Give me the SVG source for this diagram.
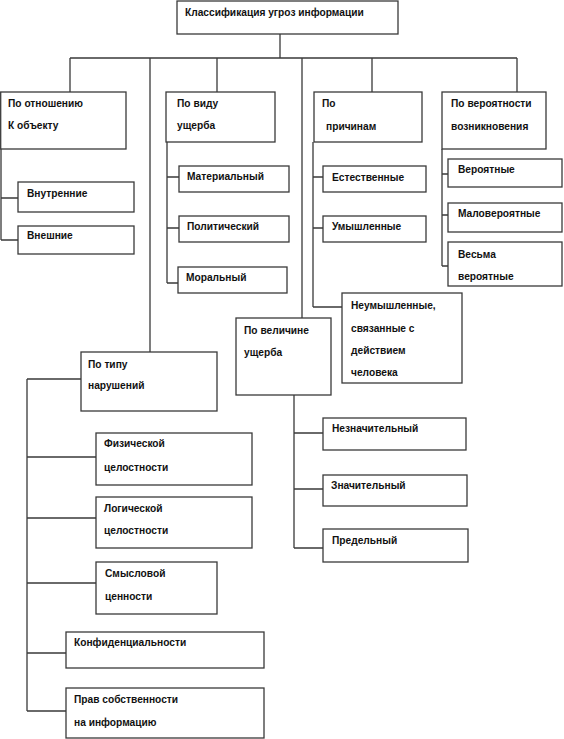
<svg xmlns="http://www.w3.org/2000/svg" width="564" height="739" viewBox="0 0 564 739">
<style>
rect{fill:#fff;stroke:#3a3a3a;stroke-width:1.3}
.c path{fill:none;stroke:#3a3a3a;stroke-width:1.3}
text{font-family:"Liberation Sans",Arial,sans-serif;font-weight:bold;font-size:10.2px;fill:#111}
</style>
<rect x="0" y="0" width="564" height="739" style="fill:#fff;stroke:none"/>
<g class="c" id="connectors">
<path d="M280 34V58M70 58H517M70 58V92M150 58V352M217 58V92M302 58V318M372 58V92M517 58V92"/>
<path d="M1 149V240M1 198H18M1 240H18"/>
<path d="M167 142V283M167 177H179M167 228H179M167 283H178"/>
<path d="M313 142V307M313 177H323M313 228H323M313 307H342"/>
<path d="M442 149V266M442 174H448M442 215H448M442 266H448"/>
<path d="M294 395V548M294 433H323M294 489H323M294 548H323"/>
<path d="M27 379H81M27 379V711M27 457H96M27 518H96M27 583H96M27 653H66M27 711H66"/>
</g>
<g id="root"><rect x="177" y="1" width="221" height="33"/><text x="185" y="16">Классификация угроз информации</text></g>
<g id="n-object"><rect x="0.7" y="92" width="125.3" height="57"/><text x="8" y="107">По отношению</text><text x="8" y="129">К объекту</text></g>
<g id="n-damage-kind"><rect x="166" y="92" width="109" height="50"/><text x="177" y="107">По виду</text><text x="177" y="129">ущерба</text></g>
<g id="n-causes"><rect x="314" y="92" width="108" height="50"/><text x="322" y="107">По</text><text x="326" y="130">причинам</text></g>
<g id="n-probability"><rect x="442" y="92" width="104" height="57"/><text x="451" y="107">По вероятности</text><text x="451" y="130">возникновения</text></g>
<g id="n-internal"><rect x="18" y="182" width="116" height="30"/><text x="27" y="197">Внутренние</text></g>
<g id="n-external"><rect x="18" y="226" width="116" height="28"/><text x="27" y="239">Внешние</text></g>
<g id="n-material"><rect x="179" y="166" width="110" height="26"/><text x="187" y="180">Материальный</text></g>
<g id="n-political"><rect x="179" y="216" width="110" height="26"/><text x="187" y="230">Политический</text></g>
<g id="n-moral"><rect x="178" y="267" width="109" height="26"/><text x="186" y="281">Моральный</text></g>
<g id="n-natural"><rect x="323" y="166" width="103" height="26"/><text x="332" y="181">Естественные</text></g>
<g id="n-intentional"><rect x="323" y="216" width="103" height="26"/><text x="332" y="230">Умышленные</text></g>
<g id="n-unintentional"><rect x="342" y="293" width="120" height="90"/><text x="351" y="309">Неумышленные,</text><text x="351" y="332">связанные с</text><text x="351" y="354">действием</text><text x="351" y="376">человека</text></g>
<g id="n-probable"><rect x="448" y="159" width="114" height="28"/><text x="458" y="173">Вероятные</text></g>
<g id="n-unlikely"><rect x="448" y="203" width="114" height="29"/><text x="458" y="217">Маловероятные</text></g>
<g id="n-very-probable"><rect x="448" y="242" width="114" height="44"/><text x="458" y="258">Весьма</text><text x="458" y="280">вероятные</text></g>
<g id="n-damage-size"><rect x="236" y="318" width="95" height="77"/><text x="244" y="334">По величине</text><text x="244" y="356">ущерба</text></g>
<g id="n-minor"><rect x="323" y="418" width="143" height="32"/><text x="332" y="432">Незначительный</text></g>
<g id="n-significant"><rect x="323" y="475" width="144" height="31"/><text x="331" y="489">Значительный</text></g>
<g id="n-extreme"><rect x="323" y="529" width="145" height="33"/><text x="332" y="544">Предельный</text></g>
<g id="n-violation"><rect x="81" y="352" width="136" height="59"/><text x="88" y="368">По типу</text><text x="88" y="389">нарушений</text></g>
<g id="n-physical"><rect x="96" y="433" width="156" height="52"/><text x="104" y="447">Физической</text><text x="104" y="471">целостности</text></g>
<g id="n-logical"><rect x="96" y="497" width="156" height="51"/><text x="104" y="512">Логической</text><text x="104" y="534">целостности</text></g>
<g id="n-semantic"><rect x="96" y="562" width="121" height="52"/><text x="105" y="577">Смысловой</text><text x="105" y="600">ценности</text></g>
<g id="n-confidential"><rect x="66" y="632" width="198" height="36"/><text x="74" y="646">Конфиденциальности</text></g>
<g id="n-ownership"><rect x="66" y="688" width="198" height="50"/><text x="74" y="703">Прав собственности</text><text x="74" y="726">на информацию</text></g>
</svg>
